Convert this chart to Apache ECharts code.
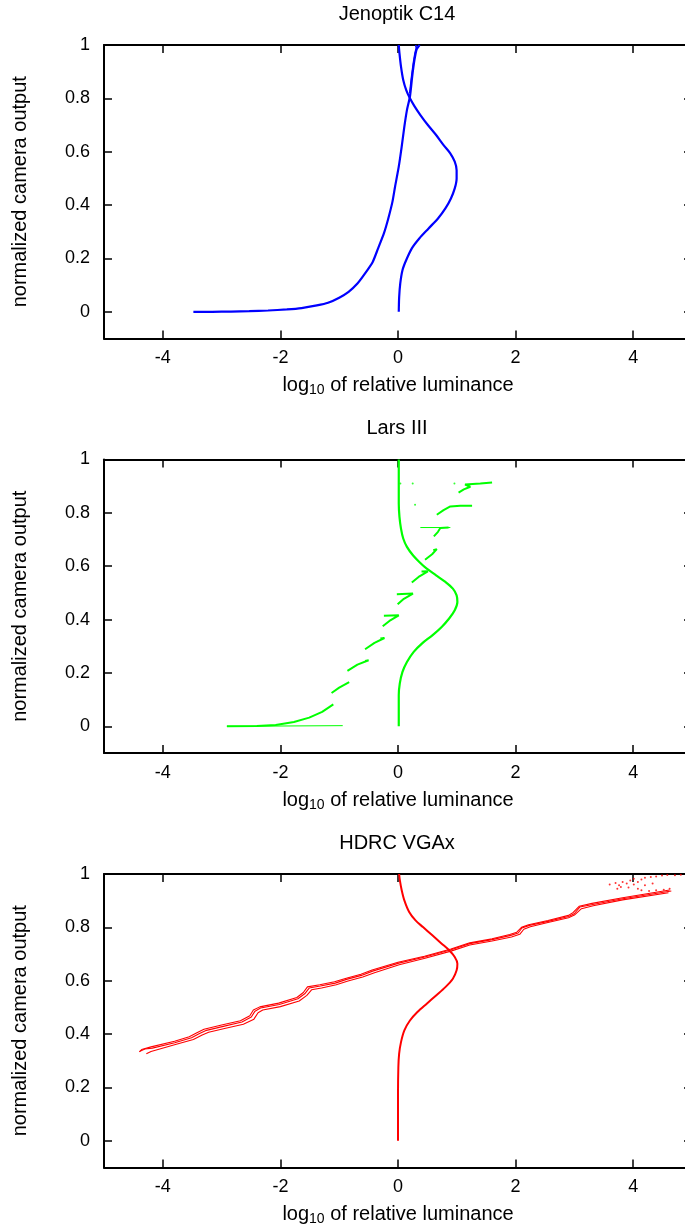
<!DOCTYPE html>
<html>
<head>
<meta charset="utf-8">
<script src="https://cdn.jsdelivr.net/npm/echarts@6/dist/echarts.min.js"></script>
<style>
html,body{margin:0;padding:0;background:#fff;}
#chart{width:685px;height:1231px;}
</style>
</head>
<body>
<div id="chart"></div>
<script>
// axis ticks / labels
const xTicks = [-4, -2, 0, 2, 4];
const yTicks = [0, 0.2, 0.4, 0.6, 0.8, 1];
const titles = ['Jenoptik C14', 'Lars III', 'HDRC VGAx'];
const colors = ['#0000ff', '#00ff00', '#ff0000'];

// --- Jenoptik C14 (blue)
const jenResponse = [[-3.48,0],[-3.16,0],[-2.84,0.001],[-2.53,0.0025],[-2.21,0.005],[-1.89,0.009],[-1.64,0.014],
  [-1.38,0.024],[-1.19,0.034],[-1.0,0.053],[-0.84,0.075],[-0.69,0.106],[-0.56,0.144],[-0.43,0.187],[-0.34,0.237],
  [-0.24,0.294],[-0.165,0.35],[-0.095,0.412],[-0.05,0.469],[0.013,0.544],[0.063,0.619],[0.108,0.694],[0.152,0.756],
  [0.203,0.806],[0.241,0.881],[0.28,0.944],[0.317,0.984],[0.368,1.0]];
const jenResponse2 = [[0.2,0.82],[0.23,0.88],[0.26,0.93],[0.29,0.97],[0.31,0.99],[0.3,1.0]];
const jenWeight = [[0.013,0],[0.02,0.056],[0.038,0.106],[0.076,0.156],[0.14,0.194],[0.235,0.238],[0.362,0.275],
  [0.52,0.3125],[0.68,0.35],[0.806,0.3875],[0.9,0.425],[0.965,0.4625],[0.997,0.5],[0.997,0.531],[0.965,0.5625],
  [0.889,0.594],[0.775,0.625],[0.648,0.6625],[0.508,0.7],[0.381,0.7375],[0.279,0.771],[0.203,0.8],[0.14,0.831],
  [0.089,0.869],[0.051,0.919],[0.025,0.969],[0.013,1.0]];

// --- Lars III (green)
const larsWeight = [[0.013,0],[0.013,0.06],[0.013,0.116],[0.03,0.16],[0.076,0.204],[0.152,0.241],[0.267,0.279],
  [0.406,0.31],[0.584,0.341],[0.743,0.3725],[0.87,0.404],[0.965,0.435],[1.01,0.466],[0.997,0.491],[0.933,0.516],
  [0.806,0.541],[0.648,0.566],[0.489,0.591],[0.362,0.616],[0.254,0.641],[0.152,0.6725],[0.089,0.704],[0.051,0.741],
  [0.025,0.785],[0.013,0.835],[0.013,0.91],[0.013,1.0]];
const larsFoot = [[-2.91,0],[-0.94,0.0025]];
const larsLevel = [[0.38,0.745],[0.89,0.745]];
const larsSteps = [
  [[-2.91,0],[-2.4,0.001],[-2.08,0.005],[-1.77,0.016],[-1.51,0.0325],[-1.29,0.054],[-1.1,0.0825]],
  [[-1.13,0.125],[-1.0,0.145],[-0.83,0.166]],
  [[-0.86,0.2075],[-0.69,0.231],[-0.5,0.2475],[-0.56,0.245]],
  [[-0.56,0.289],[-0.4,0.3125],[-0.23,0.331],[-0.3,0.329]],
  [[-0.24,0.414],[0.013,0.416],[-0.146,0.395],[-0.26,0.375]],
  [[-0.02,0.495],[0.254,0.4975],[0.1,0.478],[-0.006,0.4575]],
  [[0.235,0.539],[0.35,0.56],[0.508,0.581],[0.4,0.58]],
  [[0.46,0.624],[0.58,0.645],[0.66,0.664],[0.6,0.66]],
  [[0.61,0.712],[0.68,0.729],[0.72,0.743],[0.86,0.745]],
  [[0.66,0.793],[0.775,0.81],[0.89,0.824],[1.06,0.827],[1.26,0.827]],
  [[1.03,0.876],[1.12,0.888],[1.23,0.898],[1.14,0.906],[1.4,0.91],[1.6,0.914]]
];
const larsDots = [[0.04,0.91],[0.25,0.91],[0.29,0.83],[0.96,0.91]];

// --- HDRC VGAx (red)
const hdrcWeight = [[0,0],[0,0.076],[0,0.176],[0.006,0.276],[0.019,0.326],[0.051,0.37],[0.108,0.414],[0.203,0.451],
  [0.33,0.4825],[0.489,0.514],[0.648,0.545],[0.806,0.576],[0.933,0.6075],[0.997,0.639],[1.01,0.664],[0.965,0.689],
  [0.87,0.714],[0.743,0.739],[0.584,0.77],[0.425,0.801],[0.298,0.826],[0.19,0.8575],[0.108,0.901],[0.063,0.939],
  [0.032,0.976],[0.019,1.0]];
const hdrcStrandA = [[-4.387,0.336],[-4.305,0.344],[-4.178,0.3475],[-3.797,0.3675],[-3.511,0.386],[-3.384,0.401],
  [-3.257,0.414],[-2.971,0.429],[-2.654,0.445],[-2.495,0.464],[-2.432,0.486],[-2.337,0.4975],[-2.019,0.511],
  [-1.702,0.5325],[-1.587,0.551],[-1.511,0.5725],[-1.321,0.58],[-1.067,0.591],[-0.876,0.605],[-0.622,0.62],
  [-0.432,0.636],[0.013,0.666],[0.457,0.689],[0.902,0.716],[1.219,0.739],[1.6,0.754],[1.917,0.77],[2.044,0.779],
  [2.108,0.7975],[2.235,0.8075],[2.552,0.8225],[2.902,0.841],[2.997,0.851],[3.092,0.876],[3.314,0.886],
  [3.822,0.9075],[4.648,0.936]];
const hdrcStrandB = [[-4.28,0.326],[-4.2,0.335],[-3.8,0.36],[-3.48,0.38],[-3.33,0.397],[-3.22,0.407],[-2.95,0.421],
  [-2.63,0.437],[-2.45,0.456],[-2.38,0.48],[-2.3,0.49],[-2.0,0.503],[-1.68,0.524],[-1.55,0.545],[-1.47,0.566],
  [-1.3,0.573],[-1.05,0.585],[-0.85,0.599],[-0.6,0.614],[-0.4,0.63],[0.02,0.66],[0.46,0.684],[0.9,0.711],
  [1.22,0.734],[1.6,0.749],[1.93,0.764],[2.07,0.774],[2.14,0.793],[2.25,0.802],[2.55,0.818],[2.9,0.836],
  [3.0,0.846],[3.12,0.87],[3.32,0.881],[3.82,0.903],[4.6,0.93]];
const hdrcStrandC = [[-4.4,0.333],[-4.36,0.342],[-4.2,0.352],[-3.8,0.373],[-3.55,0.39],[-3.42,0.405],[-3.3,0.418],
  [-3.0,0.434],[-2.68,0.45],[-2.52,0.469],[-2.46,0.49],[-2.35,0.502],[-2.03,0.516],[-1.72,0.537],[-1.61,0.556],
  [-1.54,0.577],[-1.33,0.585],[-1.08,0.596],[-0.88,0.609],[-0.63,0.624],[-0.44,0.64],[0.0,0.669],[0.45,0.692],
  [0.9,0.719],[1.22,0.742],[1.6,0.757],[1.9,0.773],[2.02,0.782],[2.1,0.8],[2.22,0.81],[2.55,0.826],[2.9,0.845],
  [2.98,0.856],[3.08,0.879],[3.3,0.89],[3.82,0.911],[4.62,0.94]];
const hdrcDots = [[3.6,0.961],[3.7,0.966],[3.76,0.9575],[3.82,0.97],[3.79,0.951],[3.89,0.964],[3.95,0.976],
  [4.01,0.9825],[4.08,0.97],[4.14,0.979],[4.2,0.986],[4.3,0.989],[4.39,0.991],[4.49,0.994],[4.58,0.996],
  [4.71,0.995],[4.81,0.9975],[4.14,0.939],[4.27,0.936],[4.39,0.939],[4.52,0.941],[4.62,0.945],[4.08,0.945],
  [3.73,0.945],[3.92,0.949],[4.2,0.958],[4.33,0.964],[4.01,0.961]];

const gridTops = [45, 459.5, 874];
const font = "'Liberation Sans', Arial, sans-serif";

let chart = echarts.init(document.getElementById('chart'), null, {renderer: 'canvas'});

function line(data, p, width, smooth) {
  return {
    type: 'line', xAxisIndex: p * 2, yAxisIndex: p * 2, data: data,
    symbol: 'none', smooth: smooth || false, silent: true,
    lineStyle: {color: colors[p], width: width}
  };
}
function dots(data, p) {
  return {
    type: 'scatter', xAxisIndex: p * 2, yAxisIndex: p * 2, data: data,
    symbolSize: 2, silent: true, itemStyle: {color: colors[p]}
  };
}

let grid = [], xAxis = [], yAxis = [], title = [];
gridTops.forEach((t, i) => {
  // the right edge of the plot box lies just past the page, as in the original
  grid.push({left: 104, width: 588, top: t, height: 293.5, outerBoundsMode: 'none', containLabel: false});
  title.push({
    text: titles[i], left: 397, top: t - 41, textAlign: 'center', padding: 0,
    textStyle: {fontFamily: font, fontSize: 20, fontWeight: 'normal', color: '#000'}
  });
  xAxis.push({
    gridIndex: i, type: 'value', min: -5, max: 5, position: 'bottom',
    axisLine: {onZero: false, lineStyle: {color: '#000', width: 2}},
    axisTick: {inside: true, length: 8, customValues: xTicks, lineStyle: {color: '#000', width: 1.5}},
    axisLabel: {customValues: xTicks, margin: 11, fontFamily: font, fontSize: 18, color: '#000'},
    splitLine: {show: false},
    name: '{n|log}{s|10}{n| of relative luminance}', nameLocation: 'middle', nameGap: 35,
    nameTextStyle: {
      color: '#000', fontFamily: font,
      rich: {
        n: {fontFamily: font, fontSize: 20, lineHeight: 24, color: '#000'},
        s: {fontFamily: font, fontSize: 14, lineHeight: 8, verticalAlign: 'bottom', color: '#000'}
      }
    }
  });
  xAxis.push({
    gridIndex: i, type: 'value', min: -5, max: 5, position: 'top',
    axisLine: {onZero: false, lineStyle: {color: '#000', width: 2}},
    axisTick: {inside: true, length: 8, customValues: xTicks, lineStyle: {color: '#000', width: 1.5}},
    axisLabel: {show: false}, splitLine: {show: false}
  });
  yAxis.push({
    gridIndex: i, type: 'value', min: -0.1, max: 1, position: 'left',
    axisLine: {onZero: false, lineStyle: {color: '#000', width: 2}},
    axisTick: {inside: true, length: 8, customValues: yTicks, lineStyle: {color: '#000', width: 1.5}},
    axisLabel: {customValues: yTicks, margin: 14, fontFamily: font, fontSize: 18, color: '#000'},
    splitLine: {show: false},
    name: 'normalized camera output', nameLocation: 'middle', nameGap: 74, nameRotate: 90,
    nameTextStyle: {color: '#000', fontFamily: font, fontSize: 20}
  });
  yAxis.push({
    gridIndex: i, type: 'value', min: -0.1, max: 1, position: 'right',
    axisLine: {onZero: false, lineStyle: {color: '#000', width: 2}},
    axisTick: {inside: true, length: 8, customValues: yTicks, lineStyle: {color: '#000', width: 1.5}},
    axisLabel: {show: false}, splitLine: {show: false}
  });
});

let series = [
  line(jenResponse, 0, 2.2, 0.2),
  line(jenResponse2, 0, 1.6, 0.2),
  line(jenWeight, 0, 2.2, 0.3),
  line(larsWeight, 1, 2.2, 0.3),
  line(larsFoot, 1, 1, false),
  line(larsLevel, 1, 1, false),
  dots(larsDots, 1),
  line(hdrcWeight, 2, 2, 0.3),
  line(hdrcStrandA, 2, 1.1, false),
  line(hdrcStrandB, 2, 1.1, false),
  line(hdrcStrandC, 2, 1.1, false),
  dots(hdrcDots, 2)
];
larsSteps.forEach(seg => series.push(line(seg, 1, 2, false)));

chart.setOption({
  animation: false,
  backgroundColor: '#fff',
  title: title,
  grid: grid,
  xAxis: xAxis,
  yAxis: yAxis,
  series: series
});
</script>
</body>
</html>
